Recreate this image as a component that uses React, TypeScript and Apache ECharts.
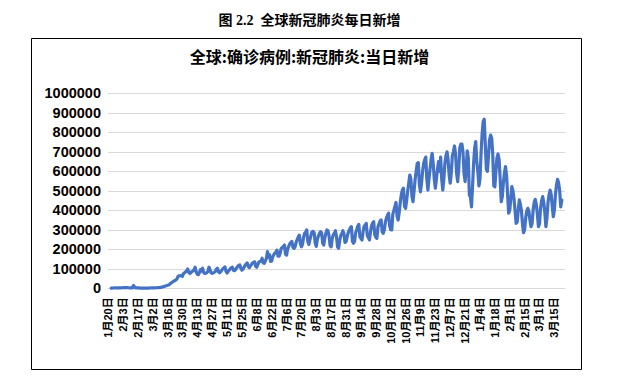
import React, { useEffect, useRef } from "react";
import * as echarts from "echarts";

const pageTitle = "图 2.2  全球新冠肺炎每日新增";
const chartTitle = "全球:确诊病例:新冠肺炎:当日新增";

const yTicks = [0, 100000, 200000, 300000, 400000, 500000, 600000, 700000, 800000, 900000, 1000000];

// daily values, 2020-01-20 .. 2020-03-29
const daily2020a = [
  null, null, null, 650, 950, 1400, 2100,
  2700, 1500, 1800, 1700, 2100, 2600, 2800,
  3200, 3900, 3700, 3200, 3400, 2700, 2600,
  2500, 2000, 1800, 15100, 6500, 2200, 2100,
  2000, 1900, 600, 900, 1000, 1500, 800,
  600, 900, 900, 1200, 1400, 1800, 1700,
  2000, 2300, 2300, 2800, 2900, 3900, 3800,
  4000, 4500, 7000, 7800, 10500, 11500, 13800,
  15500, 17000, 21000, 26000, 30000, 33000, 37000,
  40000, 43000, 49000, 62000, 64000, 64000, 66000,
];
// 2020-03-30 .. 2020-06-28
const daily2020b = [
  61000, 75000, 80000, 84000, 90000, 99000, 82000,
  76000, 80000, 86000, 89000, 96000, 108000, 84000,
  72000, 70000, 80000, 96000, 88000, 103000, 82000,
  76000, 77000, 80000, 86000, 108000, 95000, 80000,
  77000, 79000, 82000, 86000, 98000, 103000, 85000,
  80000, 85000, 92000, 100000, 104000, 110000, 88000,
  78000, 86000, 93000, 100000, 106000, 108000, 92000,
  90000, 96000, 104000, 112000, 118000, 120000, 103000,
  93000, 98000, 108000, 118000, 125000, 130000, 112000,
  106000, 115000, 122000, 130000, 134000, 136000, 112000,
  108000, 122000, 135000, 138000, 140000, 154000, 130000,
  128000, 140000, 152000, 188000, 160000, 172000, 138000,
  140000, 162000, 172000, 180000, 186000, 196000, 165000,
];
// 2020-06-29 .. 2020-09-27
const daily2020c = [
  165000, 180000, 205000, 210000, 215000, 222000, 175000,
  170000, 200000, 215000, 228000, 235000, 240000, 210000,
  205000, 212000, 235000, 250000, 262000, 273000, 230000,
  213000, 225000, 262000, 282000, 288000, 299000, 240000,
  225000, 250000, 272000, 290000, 292000, 285000, 231000,
  215000, 252000, 268000, 282000, 290000, 285000, 231000,
  222000, 258000, 282000, 299000, 295000, 268000, 218000,
  213000, 255000, 275000, 282000, 295000, 265000, 212000,
  205000, 245000, 270000, 282000, 295000, 280000, 235000,
  239000, 262000, 285000, 298000, 310000, 316000, 240000,
  231000, 240000, 285000, 300000, 318000, 328000, 265000,
  255000, 248000, 290000, 318000, 325000, 333000, 270000,
  260000, 248000, 290000, 320000, 335000, 342000, 275000,
];
// 2020-09-28 .. 2020-12-27
const daily2020d = [
  262000, 256000, 315000, 330000, 345000, 350000, 290000,
  282000, 300000, 340000, 360000, 375000, 385000, 320000,
  300000, 299000, 380000, 400000, 420000, 440000, 370000,
  350000, 390000, 440000, 480000, 505000, 513000, 420000,
  410000, 450000, 500000, 540000, 581000, 560000, 470000,
  444000, 500000, 560000, 600000, 641000, 644000, 530000,
  495000, 540000, 600000, 640000, 660000, 673000, 560000,
  504000, 560000, 610000, 660000, 692000, 640000, 560000,
  513000, 560000, 610000, 650000, 600000, 673000, 560000,
  504000, 560000, 640000, 680000, 700000, 660000, 580000,
  539000, 590000, 680000, 700000, 730000, 690000, 590000,
  547000, 610000, 720000, 739000, 740000, 700000, 590000,
  547000, 610000, 705000, 670000, 478000, 470000, 418000,
];
// 2020-12-28 .. 2021-03-22
const daily2021 = [
  520000, 640000, 720000, 752000, 650000, 600000, 525000,
  560000, 690000, 790000, 855000, 867000, 740000, 610000,
  600000, 680000, 760000, 786000, 770000, 690000, 525000,
  520000, 600000, 670000, 689000, 660000, 560000, 444000,
  470000, 540000, 590000, 624000, 580000, 480000, 385000,
  400000, 460000, 521000, 500000, 460000, 400000, 333000,
  340000, 400000, 453000, 430000, 400000, 330000, 285000,
  300000, 360000, 395000, 410000, 395000, 350000, 316000,
  330000, 400000, 440000, 456000, 430000, 380000, 316000,
  330000, 410000, 450000, 470000, 440000, 390000, 316000,
  360000, 440000, 480000, 504000, 480000, 420000, 367000,
  400000, 480000, 530000, 559000, 540000, 500000, 418000,
  453000,
];

const dailyNew = [...daily2020a, ...daily2020b, ...daily2020c, ...daily2020d, ...daily2021];

const startDate = [2020, 0, 20];
const endDate = [2021, 2, 25];

function buildCategories(): string[] {
  const out: string[] = [];
  const d = new Date(Date.UTC(startDate[0], startDate[1], startDate[2]));
  const end = new Date(Date.UTC(endDate[0], endDate[1], endDate[2]));
  while (d.getTime() <= end.getTime()) {
    out.push(`${d.getUTCMonth() + 1}月${d.getUTCDate()}日`);
    d.setUTCDate(d.getUTCDate() + 1);
  }
  return out;
}

const categories = buildCategories();

export default function App() {
  const ref = useRef<HTMLDivElement>(null);
  useEffect(() => {
    if (!ref.current) return;
    const chart = echarts.init(ref.current, null, { renderer: "svg" });
    const sans = "'Liberation Sans', 'Noto Sans CJK SC', sans-serif";
    chart.setOption({
      animation: false,
      backgroundColor: "#ffffff",
      title: [
        {
          text: pageTitle,
          left: "center",
          top: 8,
          textStyle: {
            fontSize: 14,
            fontWeight: "bold",
            color: "#000",
            fontFamily: "'Liberation Serif', 'Noto Sans CJK SC', serif",
          },
        },
        {
          text: chartTitle,
          left: "center",
          top: 43,
          textStyle: {
            fontSize: 16,
            fontWeight: "bold",
            color: "#000",
            fontFamily: "'Noto Sans CJK SC', sans-serif",
          },
        },
      ],
      graphic: [
        {
          type: "rect",
          shape: { x: 31.5, y: 38.5, width: 550, height: 331 },
          style: { fill: "none", stroke: "#000", lineWidth: 1 },
          silent: true,
        },
      ],
      grid: { left: 108, right: 54, top: 93.3, bottom: 90.7, containLabel: false },
      xAxis: {
        type: "category",
        data: categories,
        boundaryGap: false,
        axisTick: { show: false },
        axisLine: { show: true, lineStyle: { color: "#d9d9d9", width: 1 } },
        axisLabel: {
          interval: 13,
          rotate: 90,
          margin: 9,
          fontSize: 11,
          fontWeight: "bold",
          color: "#000",
          fontFamily: sans,
        },
        splitLine: { show: false },
      },
      yAxis: {
        type: "value",
        min: yTicks[0],
        max: yTicks[yTicks.length - 1],
        interval: yTicks[1] - yTicks[0],
        axisLine: { show: false },
        axisTick: { show: false },
        axisLabel: {
          margin: 7,
          fontSize: 14.5,
          fontWeight: "bold",
          color: "#000",
          fontFamily: sans,
          formatter: (v: number) => String(v),
        },
        splitLine: { lineStyle: { color: "#d9d9d9", width: 1 } },
      },
      series: [
        {
          type: "line",
          data: dailyNew,
          showSymbol: false,
          symbol: "none",
          lineStyle: { color: "#4472C4", width: 3.2, join: "round", cap: "round" },
          itemStyle: { color: "#4472C4" },
        },
      ],
    });
    return () => chart.dispose();
  }, []);
  return (
    <div
      ref={ref}
      style={{ position: "absolute", left: 0, top: 0, width: 619, height: 379 }}
    />
  );
}
